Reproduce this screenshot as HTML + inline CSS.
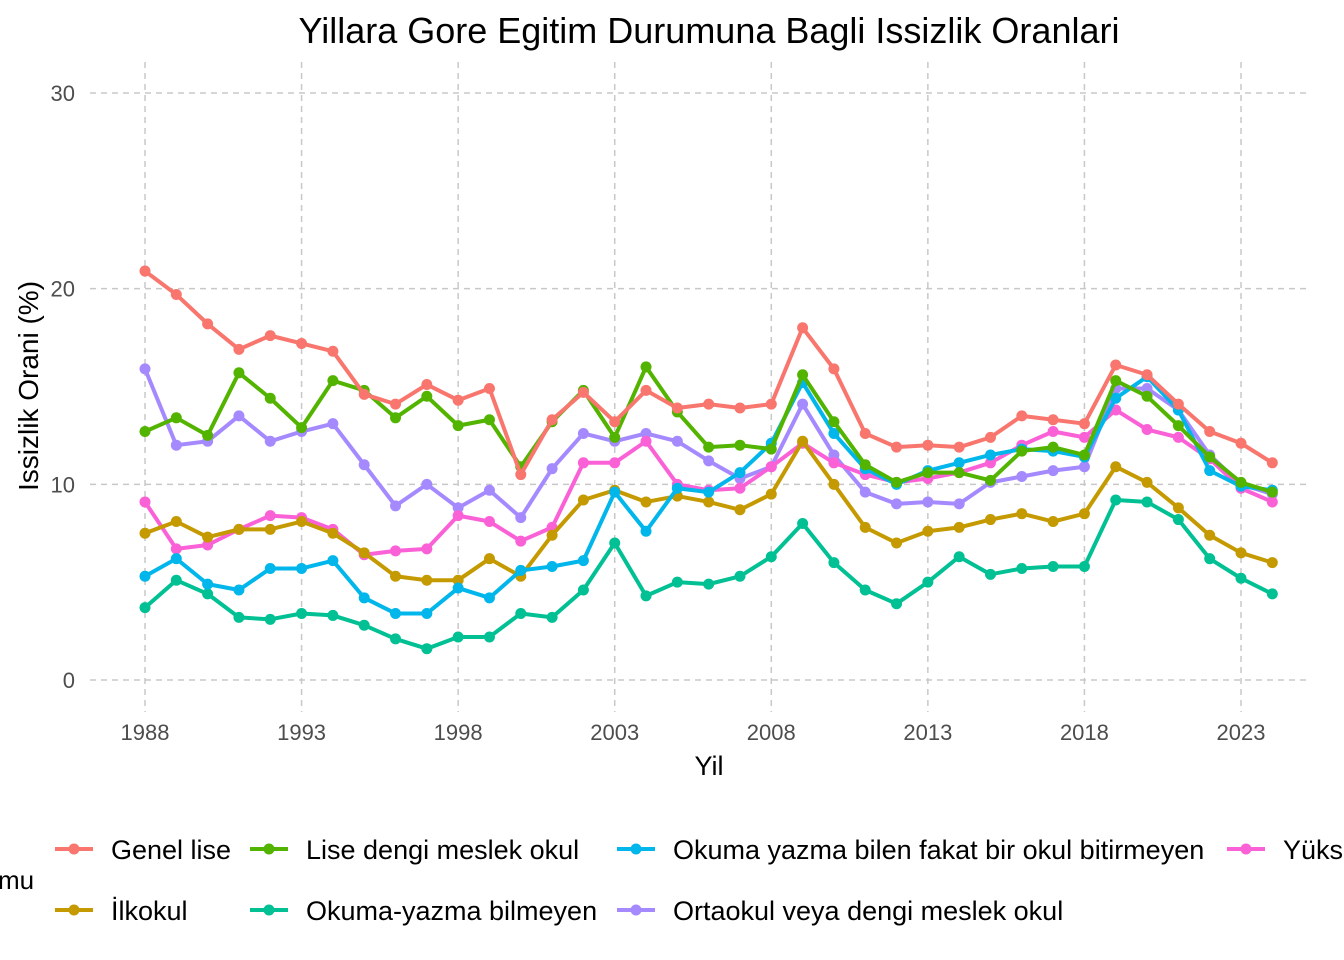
<!DOCTYPE html>
<html><head><meta charset="utf-8"><style>
body{margin:0;background:#fff;}
svg{display:block;font-family:"Liberation Sans","DejaVu Sans",sans-serif;}
</style></head><body>
<svg id="chart" width="1344" height="960" viewBox="0 0 1344 960">
<text x="709" y="43" font-size="36" text-anchor="middle" fill="#000">Yillara Gore Egitim Durumuna Bagli Issizlik Oranlari</text>
<g id="grid"></g><g id="series"></g><g id="axes"></g>
<text x="709" y="775" font-size="27" text-anchor="middle">Yil</text>
<text transform="translate(38,386) rotate(-90)" font-size="28" text-anchor="middle">Issizlik Orani (%)</text>
<text x="-2" y="889" font-size="26">mu</text>
<g id="legend"></g>
</svg>
<script>
const years=[];for(let y=1988;y<=2024;y++)years.push(y);
const xTicks=[1988,1993,1998,2003,2008,2013,2018,2023];
const yTicks=[0,10,20,30];
const genelLise=[20.9,19.7,18.2,16.9,17.6,17.2,16.8,14.6,14.1,15.1,14.3,14.9,10.5,13.3,14.7,13.2,14.8,13.9,14.1,13.9,14.1,18.0,15.9,12.6,11.9,12.0,11.9,12.4,13.5,13.3,13.1,16.1,15.6,14.1,12.7,12.1,11.1];
const liseDengi=[12.7,13.4,12.5,15.7,14.4,12.9,15.3,14.8,13.4,14.5,13.0,13.3,10.9,13.2,14.8,12.4,16.0,13.7,11.9,12.0,11.8,15.6,13.2,11.0,10.1,10.6,10.6,10.2,11.7,11.9,11.5,15.3,14.5,13.0,11.4,10.1,9.6];
const okumaBilen=[5.3,6.2,4.9,4.6,5.7,5.7,6.1,4.2,3.4,3.4,4.7,4.2,5.6,5.8,6.1,9.6,7.6,9.8,9.6,10.6,12.1,15.2,12.6,10.8,10.0,10.7,11.1,11.5,11.8,11.7,11.4,14.4,15.5,13.8,10.7,9.9,9.7];
const yuksek=[9.1,6.7,6.9,7.7,8.4,8.3,7.7,6.4,6.6,6.7,8.4,8.1,7.1,7.8,11.1,11.1,12.2,10.0,9.7,9.8,10.9,12.1,11.1,10.5,10.1,10.3,10.6,11.1,12.0,12.7,12.4,13.8,12.8,12.4,11.3,9.8,9.1];
const ilkokul=[7.5,8.1,7.3,7.7,7.7,8.1,7.5,6.5,5.3,5.1,5.1,6.2,5.3,7.4,9.2,9.7,9.1,9.4,9.1,8.7,9.5,12.2,10.0,7.8,7.0,7.6,7.8,8.2,8.5,8.1,8.5,10.9,10.1,8.8,7.4,6.5,6.0];
const bilmeyen=[3.7,5.1,4.4,3.2,3.1,3.4,3.3,2.8,2.1,1.6,2.2,2.2,3.4,3.2,4.6,7.0,4.3,5.0,4.9,5.3,6.3,8.0,6.0,4.6,3.9,5.0,6.3,5.4,5.7,5.8,5.8,9.2,9.1,8.2,6.2,5.2,4.4];
const ortaokul=[15.9,12.0,12.2,13.5,12.2,12.7,13.1,11.0,8.9,10.0,8.8,9.7,8.3,10.8,12.6,12.2,12.6,12.2,11.2,10.3,10.9,14.1,11.5,9.6,9.0,9.1,9.0,10.1,10.4,10.7,10.9,14.9,14.9,13.8,11.5,10.0,9.5];
const seriesNames=["Genel lise","İlkokul","Lise dengi meslek okul","Okuma-yazma bilmeyen","Okuma yazma bilen fakat bir okul bitirmeyen","Ortaokul veya dengi meslek okul","Yüksekokul veya fakülte"];
const seriesColors=["#F8766D","#C49A00","#53B400","#00C094","#00B6EB","#A58AFF","#FB61D7"];
const seriesData=[genelLise,ilkokul,liseDengi,bilmeyen,okumaBilen,ortaokul,yuksek];
const drawOrder=[5,6,1,3,4,2,0];

const NS="http://www.w3.org/2000/svg";
const xs=y=>145+(y-1988)*(1241-145)/35;
const ys=v=>680-v*(680-93)/30;
function mk(tag,attrs,parent){const e=document.createElementNS(NS,tag);for(const k in attrs)e.setAttribute(k,attrs[k]);parent.appendChild(e);return e;}
const grid=document.getElementById('grid'),axes=document.getElementById('axes'),ser=document.getElementById('series'),leg=document.getElementById('legend');
yTicks.forEach(t=>{
 const l=mk('line',{x1:90,x2:1306,y1:ys(t),y2:ys(t),stroke:'#c8c8c8','stroke-width':1.5,'stroke-dasharray':'6,5'},grid);
 
 
 const tx=mk('text',{x:75,y:ys(t)+8,'font-size':22,'text-anchor':'end',fill:'#4d4d4d'},axes);tx.textContent=t;
 
 
});
xTicks.forEach(t=>{
 const l=mk('line',{x1:xs(t),x2:xs(t),y1:62,y2:712,stroke:'#c8c8c8','stroke-width':1.5,'stroke-dasharray':'6,5'},grid);
 
 
 const tx=mk('text',{x:xs(t),y:740,'font-size':22,'text-anchor':'middle',fill:'#4d4d4d'},axes);tx.textContent=t;
 
 
});
drawOrder.forEach(i=>{
 const g=mk('g',{},ser);
 
 
 const pts=seriesData[i].map((v,j)=>xs(years[j])+','+ys(v)).join(' ');
 const pl=mk('polyline',{points:pts,fill:'none',stroke:seriesColors[i],'stroke-width':4,'stroke-linejoin':'round'},g);
 
 
 seriesData[i].forEach((v,j)=>{
  const c=mk('circle',{cx:xs(years[j]),cy:ys(v),r:5.5,fill:seriesColors[i]},g);
  
  
 });
});
const legPos=[[55,849],[55,910],[250,849],[250,910],[617,849],[617,910],[1227,849]];
seriesNames.forEach((n,i)=>{
 const [x,y]=legPos[i];
 const g=mk('g',{},leg);
 
 
 mk('line',{x1:x,x2:x+38,y1:y,y2:y,stroke:seriesColors[i],'stroke-width':4},g);
 mk('circle',{cx:x+19,cy:y,r:5.5,fill:seriesColors[i]},g);
 const t=mk('text',{x:x+56,y:y+10,'font-size':27,fill:'#000'},g);t.textContent=n;
});
</script>
</body></html>
